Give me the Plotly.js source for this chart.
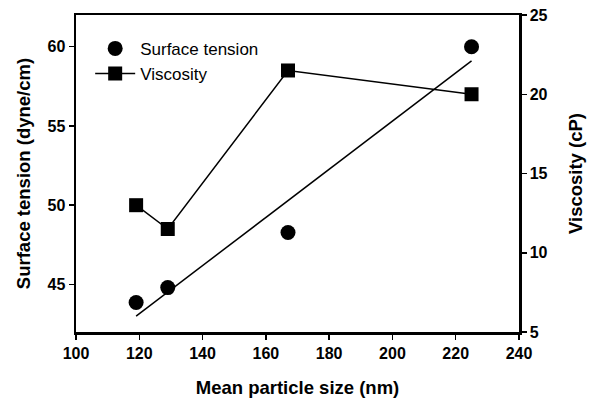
<!DOCTYPE html>
<html>
<head>
<meta charset="utf-8">
<script src="https://cdn.plot.ly/plotly-3.0.1.min.js"></script>
<style>html,body{margin:0;padding:0;background:#fff;}#chart{width:592px;height:402px;}</style>
</head>
<body>
<div id="chart"></div>
<script>
// Data
const particleSize = [119, 129, 167, 225];          // Mean particle size (nm)
const surfaceTension = [43.86, 44.8, 48.28, 60.0];   // dyne/cm
const viscosity = [13.0, 11.5, 21.5, 20.0];          // cP
const trendX = [119, 225];                           // fitted line ends for surface tension
const trendY = [43.0, 59.1];
const xTicks = [100, 120, 140, 160, 180, 200, 220, 240];
const yTicks = [45, 50, 55, 60];
const y2Ticks = [5, 10, 15, 20, 25];

const FONT = 'Liberation Sans, Arial, Helvetica, sans-serif';

const traces = [
  {
    x: particleSize, y: surfaceTension, name: 'Surface tension',
    type: 'scatter', mode: 'markers',
    marker: {symbol: 'circle', size: 15, color: '#000'},
    yaxis: 'y'
  },
  {
    x: particleSize, y: viscosity, name: 'Viscosity',
    type: 'scatter', mode: 'lines+markers',
    line: {color: '#000', width: 1.5},
    marker: {symbol: 'square', size: 14, color: '#000'},
    yaxis: 'y2'
  },
  {
    x: trendX, y: trendY, name: 'fit',
    type: 'scatter', mode: 'lines',
    line: {color: '#000', width: 1.5},
    showlegend: false, yaxis: 'y', hoverinfo: 'skip'
  }
];

function axisCommon() {
  return {
    showgrid: false, zeroline: false,
    showline: true, linecolor: '#000', linewidth: 2.5,
    ticks: 'outside', ticklen: 5, tickwidth: 1.5, tickcolor: '#000',
    tickfont: {family: FONT, size: 16, color: '#000', weight: 'bold'},
    fixedrange: true
  };
}

const titleFont = {family: FONT, size: 18.5, color: '#000', weight: 'bold'};

const layout = {
  width: 592, height: 402,
  paper_bgcolor: '#fff', plot_bgcolor: '#fff',
  margin: {l: 76, r: 73, t: 15, b: 70},
  font: {family: FONT, size: 16, color: '#000'},
  showlegend: true,
  legend: {
    x: 0.032, y: 0.95, xanchor: 'left', yanchor: 'top',
    bgcolor: 'rgba(0,0,0,0)', borderwidth: 0,
    font: {family: FONT, size: 17, color: '#000'},
    itemwidth: 40, tracegroupgap: 0
  },
  xaxis: Object.assign(axisCommon(), {
    range: [100, 240], tickvals: xTicks,
    mirror: true,
    title: {text: 'Mean particle size (nm)', standoff: 21, font: titleFont}
  }),
  yaxis: Object.assign(axisCommon(), {
    range: [42, 62], tickvals: yTicks,
    title: {text: 'Surface tension (dyne/cm)', standoff: 12, font: titleFont}
  }),
  yaxis2: Object.assign(axisCommon(), {
    range: [5, 25], tickvals: y2Ticks,
    overlaying: 'y', side: 'right',
    title: {text: 'Viscosity (cP)', standoff: 23, font: titleFont}
  })
};

Plotly.newPlot('chart', traces, layout, {displayModeBar: false, staticPlot: true});
</script>
</body>
</html>
